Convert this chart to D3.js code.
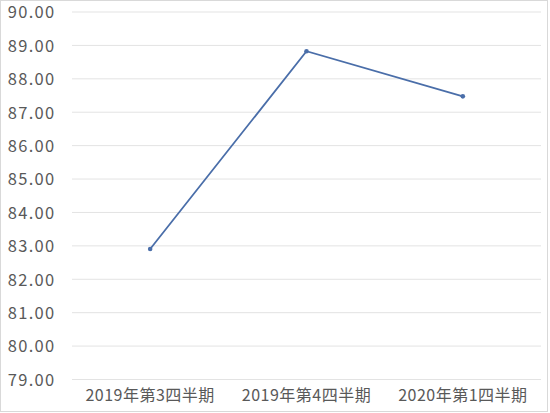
<!DOCTYPE html>
<html><head><meta charset="utf-8">
<script src="https://cdn.jsdelivr.net/npm/d3@7"></script>
<style>body{margin:0;background:#fff}svg{display:block}</style>
</head><body>
<script>
const categories = ["2019年第3四半期", "2019年第4四半期", "2020年第1四半期"];
const values = [82.89, 88.81, 87.46];
const yTicks = [79, 80, 81, 82, 83, 84, 85, 86, 87, 88, 89, 90];

const W = 550, H = 413;
const m = {left: 72, right: 9, top: 11.5, bottom: 34};
const svg = d3.select("body").append("svg").attr("width", W).attr("height", H);
svg.append("rect").attr("x", 0.5).attr("y", 0.5).attr("width", 547).attr("height", 411)
  .attr("fill", "#fff").attr("stroke", "#d9d9d9");

const x = d3.scaleBand().domain(categories).range([m.left, W - m.right]);
const y = d3.scaleLinear().domain([79, 90]).range([H - m.bottom, m.top]);

const yAxis = svg.append("g").attr("transform", `translate(${m.left},0)`)
  .call(d3.axisLeft(y).tickValues(yTicks).tickFormat(d3.format(".2f"))
    .tickSize(-(W - m.left - m.right)).tickPadding(16.5));
yAxis.select(".domain").remove();
yAxis.selectAll("line").attr("stroke", "#e3e3e3").attr("stroke-width", 1);
yAxis.selectAll("text").attr("fill", "#595959").attr("font-size", "16.5px")
  .attr("letter-spacing", "1.3px").attr("dy", "0.38em")
  .attr("font-family", "'Noto Sans CJK JP', 'Noto Sans', sans-serif");

const xAxis = svg.append("g").attr("transform", `translate(0,${H - m.bottom})`)
  .call(d3.axisBottom(x).tickSize(0).tickPadding(11));
xAxis.select(".domain").remove();
xAxis.selectAll("text").attr("fill", "#595959").attr("font-size", "16px")
  .attr("letter-spacing", "0.5px")
  .attr("font-family", "'Noto Sans CJK JP', 'Noto Sans', sans-serif");

const cx = d => x(d) + x.bandwidth() / 2;
const line = d3.line().x((d, i) => cx(categories[i])).y(d => y(d));
svg.append("path").datum(values).attr("d", line).attr("fill", "none")
  .attr("stroke", "#4a6ea9").attr("stroke-width", 1.8);
svg.selectAll("circle.pt").data(values).join("circle").attr("class", "pt")
  .attr("cx", (d, i) => cx(categories[i])).attr("cy", d => y(d)).attr("r", 2.3)
  .attr("fill", "#4a6ea9");
</script>
</body></html>
